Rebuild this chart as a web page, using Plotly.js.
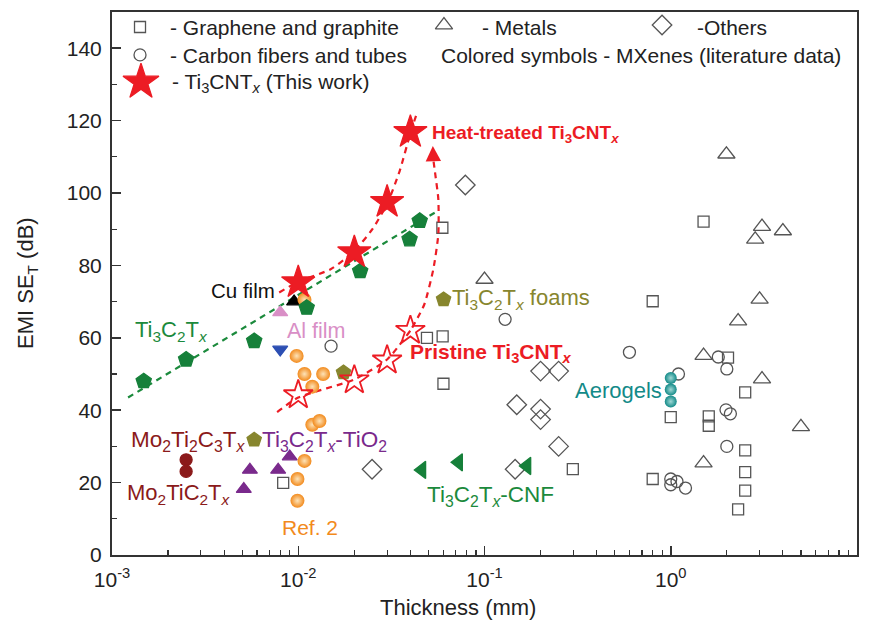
<!DOCTYPE html>
<html><head><meta charset="utf-8">
<script src="https://cdn.plot.ly/plotly-3.0.1.min.js"></script>
<style>body{margin:0;background:#fff}#chart{width:870px;height:623px}</style>
</head><body><div id="chart"></div>
<script>
// ---- literature data (gray open symbols) ----
const grapheneX = [0.0083,0.0594,0.0491,0.0596,0.0602,0.298,1.50,0.80,2.03,2.51,1.0,1.60,1.60,2.51,2.51,2.51,2.30,0.80];
const grapheneY = [19.9,90.4,60.0,60.4,47.3,23.7,92.1,70.1,54.5,44.9,38.1,38.3,35.7,28.9,22.9,17.8,12.6,21.0];
const carbonX = [0.015,0.129,0.60,1.80,2.00,1.10,1.98,2.09,2.00,1.00,1.08,1.00,1.20];
const carbonY = [57.7,65.1,56.0,54.7,51.4,50.0,40.1,39.0,30.0,21.0,20.3,19.4,18.5];
const metalsX = [0.100,1.99,3.09,4.0,2.84,3.0,2.30,1.50,3.09,5.0,1.5];
const metalsY = [76.1,110.7,90.7,89.5,87.2,70.6,64.6,55.1,48.6,35.4,25.4];
const othersX = [0.0789,0.0249,0.146,0.20,0.25,0.149,0.20,0.20,0.25];
const othersY = [102.2,23.7,23.7,50.8,50.8,41.5,40.3,37.4,30.0];
// ---- MXenes literature (colored) ----
const ti3c2X = [0.00148,0.0025,0.0058,0.0111,0.0215,0.0396,0.0449];
const ti3c2Y = [48.0,54.0,59.1,68.3,78.4,87.2,92.3];
const ti3c2FitX = [0.00122,0.0558];
const ti3c2FitY = [43.5,95.0];
const refX = [0.0108,0.0098,0.0108,0.0136,0.0119,0.0119,0.0130,0.0108,0.0099,0.0099];
const refY = [70.5,55,50,50,46.5,36,37,26,21,15];
const tio2X = [0.0051,0.0055,0.0078,0.0090];
const tio2Y = [18.2,23.5,23.5,27.2];
const foamX = [0.0058,0.0175,0.0603];
const foamY = [31.8,50.4,70.6];
const moX = [0.0025,0.0025];
const moY = [26.3,23.1];
const cnfX = [0.0461,0.0726,0.169];
const cnfY = [23.5,25.6,24.6];
const aeroX = [1.0,1.0,1.0];
const aeroY = [48.9,45.7,42.4];
const cuX = [0.0095], cuY = [70];
const alX = [0.008], alY = [67];
const blueX = [0.008], blueY = [56.8];
// ---- this work ----
const thickX = [0.01,0.02,0.03,0.04];
const heatY = [75.3,83.6,97.5,116.8];
const pristineY = [44.2,48.3,53.8,62.0];
const heatFitX = [0.0079,0.01,0.015,0.02,0.025,0.03,0.035,0.04,0.043];
const heatFitY = [72.5,75.5,79.0,84.0,90.0,97.0,106.0,116.5,121.5];
const priFitX = [0.0077,0.01,0.02,0.03,0.04];
const priFitY = [39.5,43.5,48.5,54.0,62.0];
const arrowX = [0.0409,0.0475,0.0531,0.0565,0.0565,0.0544,0.0531];
const arrowY = [62.8,69.2,78.9,88.6,98.3,105.2,109.3];
// ---- axis ticks ----
const xTickVals = [0.001,0.01,0.1,1,10];
const xTickText = ['10<sup>-3</sup>','10<sup>-2</sup>','10<sup>-1</sup>','10<sup>0</sup>','10<sup>1</sup>'];
const yTickVals = [0,20,40,60,80,100,120,140];

const RED='#ec1c24', GREEN='#1b8a3c', GRAY='#555555';
const FONT = 'Arial, "Liberation Sans", sans-serif';

function sc(x,y,sym,size,color,extra){
  const m = Object.assign({symbol:sym,size:size,color:color,line:{width:1.3,color:color}}, extra||{});
  return {x:x,y:y,type:'scatter',mode:'markers',marker:m,hoverinfo:'skip',showlegend:false};
}
function ln(x,y,color,w){
  return {x:x,y:y,type:'scatter',mode:'lines',line:{color:color,width:w||2.2,dash:'6px,5px',shape:'spline',smoothing:0.6},hoverinfo:'skip',showlegend:false};
}
const minorVals=[];
for(let d=-3; d<1; d++){ for(let k=2;k<10;k++){ minorVals.push(k*Math.pow(10,d)); } }

const traces = [
  sc(grapheneX,grapheneY,'square-open',11,GRAY),
  sc(carbonX,carbonY,'circle-open',12,GRAY),
  sc(metalsX,metalsY,'triangle-up-open',15,GRAY),
  sc(othersX,othersY,'diamond-open',15,GRAY),
  ln(ti3c2FitX,ti3c2FitY,GREEN),
  ln(heatFitX,heatFitY,RED),
  ln(priFitX,priFitY,RED),
  ln(arrowX,arrowY,RED),
  sc(cuX,cuY,'triangle-up',13,'#000'),
  sc(alX,alY,'triangle-up',13,'#d98fc6'),
  sc(blueX,blueY,'triangle-down',13,'#2c4fb3'),
  sc(moX,moY,'circle',12,'#8b1a1a'),
  sc(tio2X,tio2Y,'triangle-up',13,'#7a2a8c'),
  sc(foamX,foamY,'pentagon',15,'#87862e'),
  sc(refX,refY,'circle',14,'#f28a1c',{gradient:{type:'radial',color:'#fde3b8'},line:{width:0}}),
  sc(ti3c2X,ti3c2Y,'pentagon',16,'#16803a'),
  sc(cnfX,cnfY,'triangle-left',15,'#16803a'),
  sc(aeroX,aeroY,'circle',12,'#138a88',{gradient:{type:'radial',color:'#9fd8d5'},line:{width:0}}),
  sc(thickX,pristineY,'star-open',22,RED,{line:{width:1.8,color:RED}}),
  sc(thickX,heatY,'star',25,RED),
  // legend symbols (overlay axes spanning the plot area)
  Object.assign(sc([0.0376],[0.9724],'square-open',11,GRAY),{xaxis:'x2',yaxis:'y2'}),
  Object.assign(sc([0.0376],[0.921],'circle-open',12,GRAY),{xaxis:'x2',yaxis:'y2'}),
  Object.assign(sc([0.0389],[0.871],'star',27,RED),{xaxis:'x2',yaxis:'y2'}),
  Object.assign(sc([0.4456],[0.976],'triangle-up-open',15,GRAY),{xaxis:'x2',yaxis:'y2'}),
  Object.assign(sc([0.7383],[0.976],'diamond-open',15,GRAY),{xaxis:'x2',yaxis:'y2'})
];

function P(px,py){ return {x:(px-112)/745, y:(555-py)/543}; }
function ann(txt,px,py,color,size,bold){
  const p=P(px,py);
  return {text: bold?'<b>'+txt+'</b>':txt, x:p.x, y:p.y, xref:'paper', yref:'paper', xanchor:'left', yanchor:'middle',
    showarrow:false, font:{family:FONT,size:size,color:color}};
}
const ti='Ti<sub>3</sub>C<sub>2</sub>T<sub><i>x</i></sub>';
const annotations = [
  ann('- Graphene and graphite',168,27,'#222',21),
  ann('- Carbon fibers and tubes',168,55,'#222',21),
  ann('- Ti<sub>3</sub>CNT<sub><i>x</i></sub> (This work)',170,83,'#222',21),
  ann('- Metals',480,27,'#222',21),
  ann('-Others',695,27,'#222',21),
  ann('Colored symbols - MXenes (literature data)',439,55,'#222',21),
  ann('Heat-treated Ti<sub>3</sub>CNT<sub><i>x</i></sub>',430,134,RED,19,true),
  ann('Pristine Ti<sub>3</sub>CNT<sub><i>x</i></sub>',408,353,RED,21,true),
  ann('Cu film',209,290,'#111',20.5),
  ann('Al film',285,331,'#d98fc6',21.5),
  ann(ti,133,331,'#1b8a3c',22),
  ann(ti+' foams',450,299,'#87862e',22),
  ann('Mo<sub>2</sub>Ti<sub>2</sub>C<sub>3</sub>T<sub><i>x</i></sub>',129,441,'#8b1a1a',22.5),
  ann(ti+'-TiO<sub>2</sub>',260,441,'#7a2a8c',22.5),
  ann('Mo<sub>2</sub>TiC<sub>2</sub>T<sub><i>x</i></sub>',125,494,'#8b1a1a',22),
  ann('Ref. 2',280,527,'#f28a1c',21),
  ann(ti+'-CNF',425,496,'#1b8a3c',22.5),
  ann('Aerogels',573,390,'#138a88',22),
  // axis titles
  {text:'Thickness (mm)', x:(458-112)/745, y:(555-607)/543, xref:'paper', yref:'paper', xanchor:'center', yanchor:'middle',
   showarrow:false, font:{family:FONT,size:22,color:'#222'}},
  {text:'EMI SE<sub>T</sub> (dB)', x:(27-112)/745, y:(555-283)/543, xref:'paper', yref:'paper', xanchor:'center', yanchor:'middle',
   textangle:-90, showarrow:false, font:{family:FONT,size:22,color:'#222'}},
  // arrowhead at end of curved dashed arrow
  {x:Math.log10(0.0528), y:113, ax:Math.log10(0.0531), ay:109.3, xref:'x', yref:'y', axref:'x', ayref:'y',
   text:'', showarrow:true, arrowhead:2, arrowsize:1.4, arrowwidth:2.2, arrowcolor:RED}
];

const layout = {
  width:870, height:623, margin:{l:112,r:13,t:12,b:68},
  paper_bgcolor:'#fff', plot_bgcolor:'#fff',
  font:{family:FONT,size:20,color:'#222'},
  showlegend:false,
  xaxis:{type:'log', range:[-3,1], tickvals:xTickVals, ticktext:xTickText, ticks:'inside', ticklen:9, tickwidth:1.5,
    tickcolor:'#333', showline:true, linecolor:'#333', linewidth:2, mirror:true, showgrid:false, zeroline:false,
    tickfont:{size:21,color:'#222'}, ticklabelstandoff:5,
    minor:{tickvals:minorVals, ticks:'inside', ticklen:5, tickwidth:1.2, tickcolor:'#333', showgrid:false}},
  yaxis:{range:[0,150], tickvals:yTickVals, ticks:'inside', ticklen:9, tickwidth:1.5, tickcolor:'#333',
    showline:true, linecolor:'#333', linewidth:2, mirror:true, showgrid:false, zeroline:false,
    tickfont:{size:21,color:'#222'}, ticklabelstandoff:4,
    minor:{dtick:10, ticks:'inside', ticklen:5, tickwidth:1.2, tickcolor:'#333', showgrid:false}},
  xaxis2:{overlaying:'x', range:[0,1], visible:false, fixedrange:true},
  yaxis2:{overlaying:'y', range:[0,1], visible:false, fixedrange:true},
  annotations:annotations
};
Plotly.newPlot('chart', traces, layout, {displayModeBar:false, staticPlot:true});
</script></body></html>
